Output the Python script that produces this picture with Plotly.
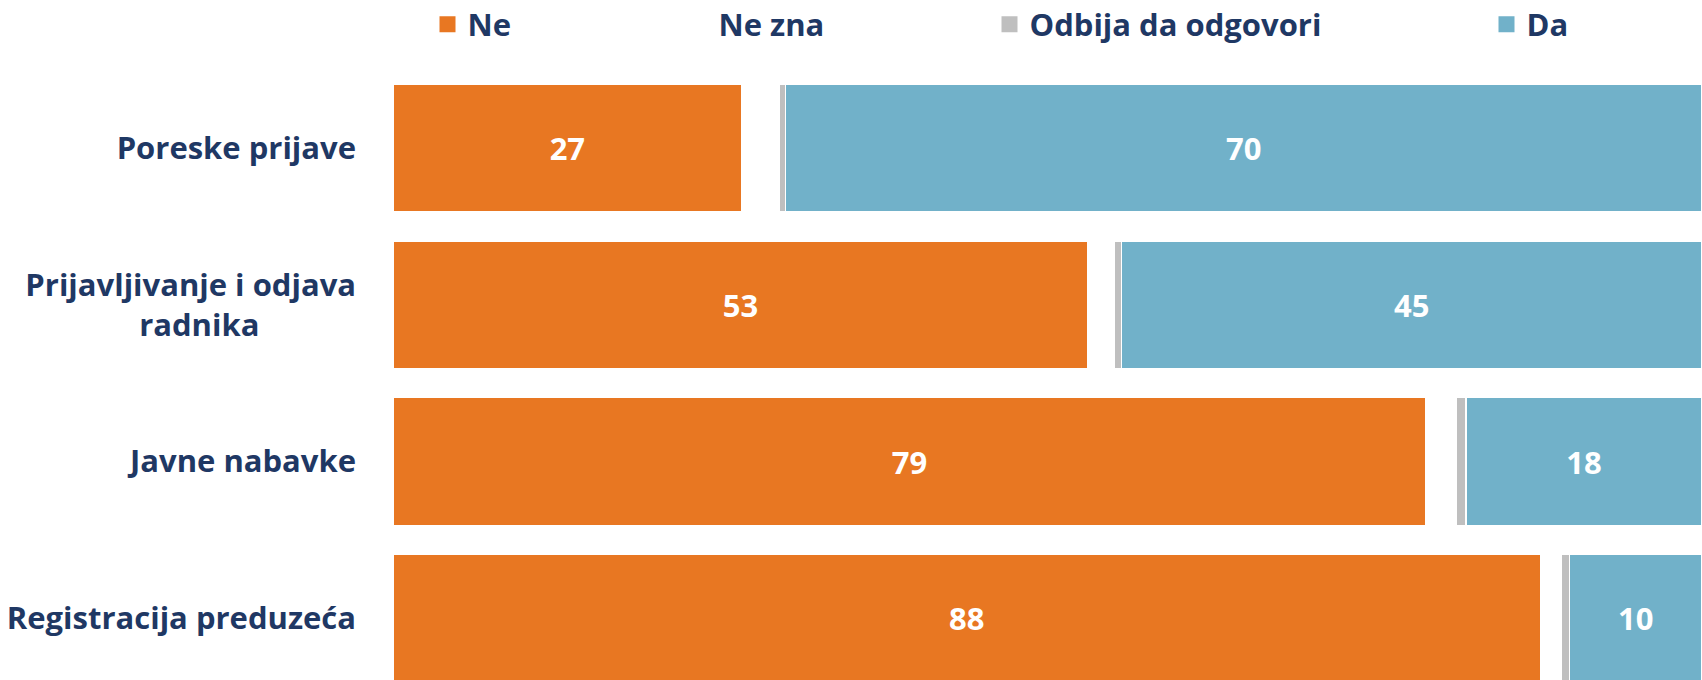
import plotly.graph_objects as go

categories = ["Poreske prijave", "Prijavljivanje i odjava radnika", "Javne nabavke", "Registracija preduzeća"]
tick_labels = ["Poreske prijave",
               "Prijavljivanje i odjava<br>radnika" + "\u00a0" * 12,
               "Javne nabavke",
               "Registracija preduzeća"]
ne = [26.8, 53.4, 79.4, 88.2]
ne_zna = [2.9, 2.0, 2.3, 1.6]
odbija = [0.45, 0.6, 0.75, 0.6]
da = [70.45, 44.6, 18.15, 10.2]

series = [
    ("Ne", ne, "#E87722", True),
    ("Ne zna", ne_zna, "#FFFFFF", False),
    ("Odbija da odgovori", odbija, "#BFBFBF", False),
    ("Da", da, "#71B1C9", True),
]

NAVY = "#1F3864"
FONT = "Open Sans"
FS = 31
W, H = 1702, 680
L, T = 393, 69.5
PW = W - L
PH = H - T

# left edge of each legend marker (px)
legend_marker_px = [439, 690, 1001, 1498]
legend_names = ["legend", "legend2", "legend3", "legend4"]

fig = go.Figure()
for i, (name, vals, color, show_text) in enumerate(series):
    fig.add_trace(go.Bar(
        name=name, y=categories, x=vals, orientation="h",
        marker=dict(color=color, line=dict(color="white", width=1.5)),
        text=[f"{v:.0f}" for v in vals] if show_text else None,
        textposition="inside" if show_text else "none",
        insidetextanchor="middle",
        textfont=dict(color="white", size=FS, family=FONT, weight="bold"),
        showlegend=False,
        hoverinfo="skip",
    ))

# legend entries (square swatches)
for i, (name, vals, color, show_text) in enumerate(series):
    fig.add_trace(go.Scatter(
        name=name, x=[None], y=[None], mode="markers",
        marker=dict(symbol="square", size=17, color=color),
        legend=legend_names[i], showlegend=True, hoverinfo="skip",
    ))

layout_legends = {}
for i, ln in enumerate(legend_names):
    layout_legends[ln] = dict(
        x=(legend_marker_px[i] - 11.5 - L) / PW, xanchor="left",
        y=1 + (T - 24) / PH, yanchor="middle",
        orientation="h", bgcolor="rgba(0,0,0,0)", borderwidth=0,
        font=dict(family=FONT, size=FS, color=NAVY, weight="bold"),
        itemclick=False, itemdoubleclick=False,
    )

fig.update_layout(
    width=W, height=H,
    margin=dict(l=L, r=0, t=T, b=0, pad=0, autoexpand=False),
    barmode="stack", bargap=0.185,
    plot_bgcolor="white", paper_bgcolor="white",
    showlegend=True,
    **layout_legends,
    xaxis=dict(range=[0, 100.6], visible=False, fixedrange=True),
    yaxis=dict(
        categoryorder="array", categoryarray=categories,
        range=[3.395, -0.5],
        tickvals=categories, ticktext=tick_labels,
        tickfont=dict(family=FONT, size=FS, color=NAVY, weight="bold"),
        showgrid=False, zeroline=False, showline=False, ticks="",
        ticklabelstandoff=36,
    ),
    uniformtext=dict(mode="show", minsize=10),
)

fig.write_html(
    "out.html",
    config={"displayModeBar": False},
    post_script="document.body.style.margin='0';document.body.style.overflow='hidden';",
)
